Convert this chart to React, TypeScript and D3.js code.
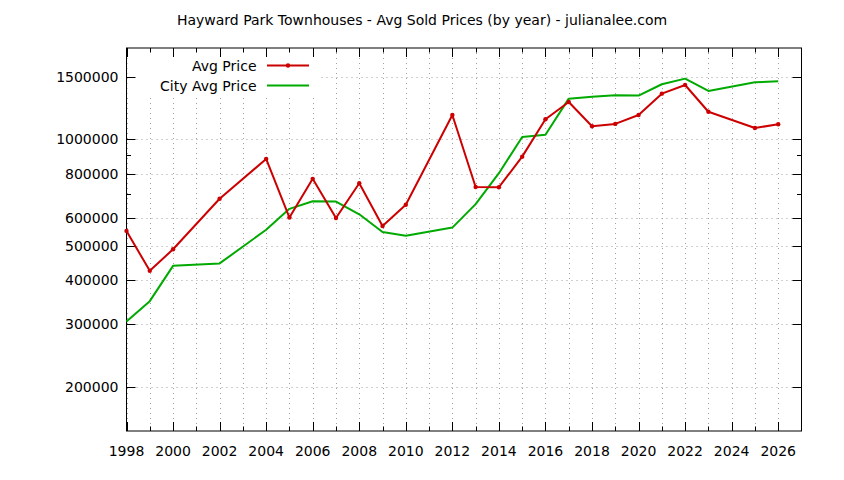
import React from 'react';
import * as d3 from 'd3';

const years: number[] = [1998,1999,2000,2002,2004,2005,2006,2007,2008,2009,2010,2012,2013,2014,2015,2016,2017,2018,2019,2020,2021,2022,2023,2025,2026];
const avgPrice: number[] = [551000,425000,489000,679000,880000,601000,773000,599000,751000,569000,653000,1171000,733000,732000,893000,1139000,1274000,1088000,1105000,1171000,1345000,1423000,1196000,1076000,1102000];

const cityYears: number[] = [1998,1999,2000,2002,2004,2005,2006,2007,2008,2009,2010,2012,2013,2014,2015,2016,2017,2018,2019,2020,2021,2022,2023,2025,2026];
const cityAvgPrice: number[] = [305500,349000,439000,446000,555000,636000,668000,667000,614000,547000,534000,563000,656000,802000,1015000,1030000,1302000,1319000,1331000,1328000,1430000,1483000,1369000,1448000,1458000];

const yMajorTicks: number[] = [200000,300000,400000,500000,600000,800000,1000000,1500000];
const yMinorTicks: number[] = [700000,900000];
const xMajorTicks: number[] = d3.range(1998, 2027, 2);
const xMinorTicks: number[] = d3.range(1999, 2027, 2);

const title = 'Hayward Park Townhouses - Avg Sold Prices (by year) - julianalee.com';
const seriesNames = ['Avg Price', 'City Avg Price'];

const W = 844, H = 480;
const L = 126.5, R = 801.5, T = 48, B = 431;
const RED = '#cc0000';
const GREEN = '#00aa00';
const FONT = 'DejaVu Sans';

export default function App() {
  const x = d3.scaleLinear().domain([1998, 2027]).range([L, R]);
  const y = d3.scaleLog().domain([150000, 1810000]).range([B, T]);
  const line = d3.line<[number, number]>().x(d => x(d[0])).y(d => y(d[1]));
  const redPts: [number, number][] = years.map((yr, i) => [yr, avgPrice[i]]);
  const greenPts: [number, number][] = cityYears.map((yr, i) => [yr, cityAvgPrice[i]]);
  const allYears = [...xMajorTicks, ...xMinorTicks];
  const legendX0 = 267, legendX1 = 309;
  const leg1Y = 65.5, leg2Y = 85.5;
  return (
    <svg width={W} height={H} style={{ position: 'absolute', left: 0, top: 0, background: '#fff' }} fontFamily={FONT}>
      <rect x={0} y={0} width={W} height={H} fill="#fff" />
      {/* grid */}
      <g stroke="#a0a0a0" strokeWidth={1} strokeDasharray="1,4">
        {allYears.map(v => (
          <line key={'gx' + v} x1={Math.round(x(v)) + 0.5} x2={Math.round(x(v)) + 0.5} y1={T} y2={B} />
        ))}
        {yMajorTicks.map(v => (
          <line key={'gy' + v} x1={L} x2={R} y1={Math.round(y(v)) + 0.5} y2={Math.round(y(v)) + 0.5} />
        ))}
      </g>
      {/* legend box */}
      <rect x={L + 1} y={T + 1} width={318 - L - 1} height={95 - T - 1} fill="#fff" />
      {/* ticks */}
      <g stroke="#000" strokeWidth={1}>
        {xMajorTicks.map(v => {
          const px = Math.round(x(v)) + 0.5;
          return (
            <g key={'tx' + v}>
              <line x1={px} x2={px} y1={B} y2={B - 9} />
              <line x1={px} x2={px} y1={T} y2={T + 9} />
            </g>
          );
        })}
        {xMinorTicks.map(v => {
          const px = Math.round(x(v)) + 0.5;
          return (
            <g key={'mx' + v}>
              <line x1={px} x2={px} y1={B} y2={B - 4.5} />
              <line x1={px} x2={px} y1={T} y2={T + 4.5} />
            </g>
          );
        })}
        {yMajorTicks.map(v => {
          const py = Math.round(y(v)) + 0.5;
          return (
            <g key={'ty' + v}>
              <line x1={L} x2={L + 9} y1={py} y2={py} />
              <line x1={R} x2={R - 9} y1={py} y2={py} />
            </g>
          );
        })}
        {yMinorTicks.map(v => {
          const py = Math.round(y(v)) + 0.5;
          return (
            <g key={'my' + v}>
              <line x1={L} x2={L + 4.5} y1={py} y2={py} />
              <line x1={R} x2={R - 4.5} y1={py} y2={py} />
            </g>
          );
        })}
      </g>
      {/* frame */}
      <rect x={L} y={T} width={R - L} height={B - T} fill="none" stroke="#000" strokeWidth={1} />
      {/* series */}
      <path d={line(greenPts) || ''} fill="none" stroke={GREEN} strokeWidth={2} strokeLinejoin="round" />
      <path d={line(redPts) || ''} fill="none" stroke={RED} strokeWidth={2} strokeLinejoin="round" />
      {redPts.map((p, i) => (
        <circle key={'pt' + i} cx={x(p[0])} cy={y(p[1])} r={2.2} fill={RED} />
      ))}
      {/* axis labels */}
      <g fontSize={14} fill="#000">
        {xMajorTicks.map(v => (
          <text key={'lx' + v} x={x(v)} y={456} textAnchor="middle">{v}</text>
        ))}
        {yMajorTicks.map(v => (
          <text key={'ly' + v} x={118.5} y={y(v) + 5} textAnchor="end">{v}</text>
        ))}
      </g>
      {/* legend */}
      <g fontSize={14} fill="#000">
        <text x={256.5} y={leg1Y + 5} textAnchor="end">{seriesNames[0]}</text>
        <text x={256.5} y={leg2Y + 5} textAnchor="end">{seriesNames[1]}</text>
      </g>
      <line x1={legendX0} x2={legendX1} y1={leg1Y} y2={leg1Y} stroke={RED} strokeWidth={2} />
      <circle cx={(legendX0 + legendX1) / 2} cy={leg1Y} r={2.2} fill={RED} />
      <line x1={legendX0} x2={legendX1} y1={leg2Y} y2={leg2Y} stroke={GREEN} strokeWidth={2} />
      {/* title */}
      <text x={W / 2} y={25} textAnchor="middle" fontSize={14} fill="#000">{title}</text>
    </svg>
  );
}
